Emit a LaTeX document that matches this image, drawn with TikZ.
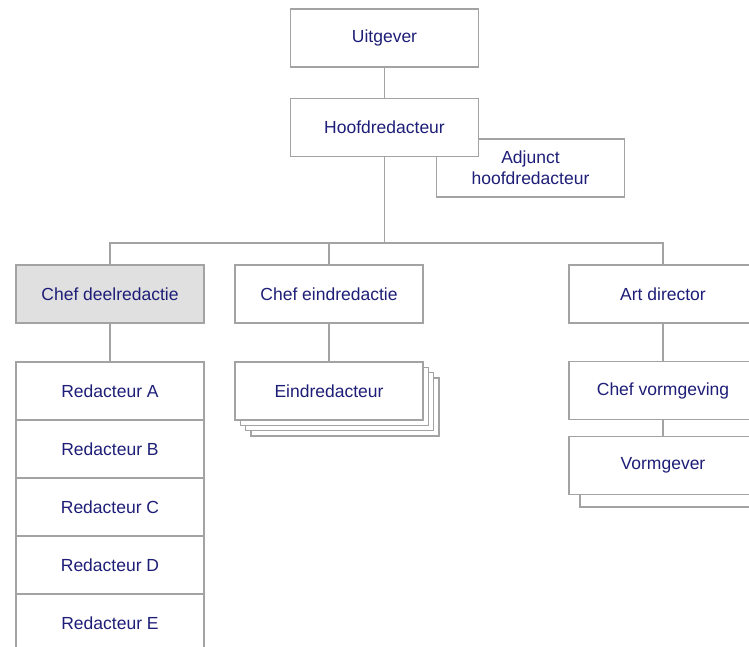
\documentclass[tikz,border=0pt]{standalone}
\usepackage{fontspec}
\setmainfont{Liberation Sans}
\usetikzlibrary{positioning}
\definecolor{lijngrijs}{HTML}{A3A3A3}
\definecolor{tekstblauw}{HTML}{1E1E78}
\definecolor{vulgrijs}{HTML}{E0E0E0}
\tikzset{
    % Define style for the function boxes
    functie/.style={
           rectangle,
           draw=lijngrijs, line width=1.3pt,
           fill=white,
           minimum width=188pt,
           minimum height=58pt,
           text=tekstblauw,
           font=\fontsize{17.5}{21}\selectfont,
           align=center},
    % Define style for the connecting lines
    lijn/.style={
           draw=lijngrijs,
           line width=1.3pt}
}

\begin{document}
\begin{tikzpicture}[x=1pt,y=-1pt]
\clip (0,0) rectangle (749,646);
\fill[white] (0,0) rectangle (749,646);

% Top of the organisation
\node[functie] (uitg) at (384.5,38) {Uitgever};
\node[functie] (adj) at (530.5,168) {Adjunct\\hoofdredacteur};
\node[functie] (hoofd) at (384.5,127.5) {Hoofdredacteur};

% Second level
\node[functie, fill=vulgrijs] (cdeel) at (110,294) {Chef deelredactie};
\node[functie] (ceind) at (329,294) {Chef eindredactie};
\node[functie] (art) at (663,294) {Art director};

% Column of editors
\node[functie] (redA) at (110,391) {Redacteur A};
\node[functie] (redB) at (110,449) {Redacteur B};
\node[functie] (redC) at (110,507) {Redacteur C};
\node[functie] (redD) at (110,565) {Redacteur D};
\node[functie] (redE) at (110,623) {Redacteur E};

% Stack of final editors, back to front
\foreach \i in {3,2,1}
    \node[functie] (eind\i) at (329+5.3*\i,391+5.3*\i) {};
\node[functie] (eind) at (329,391) {Eindredacteur};

% Design
\node[functie] (cvorm) at (663,390.5) {Chef vormgeving};
\node[functie] (vorm1) at (674,478) {};
\node[functie] (vorm) at (663,465.5) {Vormgever};

% Now connect the nodes
\coordinate (splits) at (hoofd.south |- 0,243);
\draw[lijn] (uitg.south) -- (hoofd.north);
\draw[lijn] (hoofd.south) -- (splits);
\draw[lijn] (cdeel.north) |- (splits) -| (art.north);
\draw[lijn] (ceind.north) -- (ceind.north |- splits);
\draw[lijn] (cdeel.south) -- (redA.north);
\draw[lijn] (ceind.south) -- (eind.north);
\draw[lijn] (art.south) -- (cvorm.north);
\draw[lijn] (cvorm.south) -- (vorm.north);
\end{tikzpicture}
\end{document}
